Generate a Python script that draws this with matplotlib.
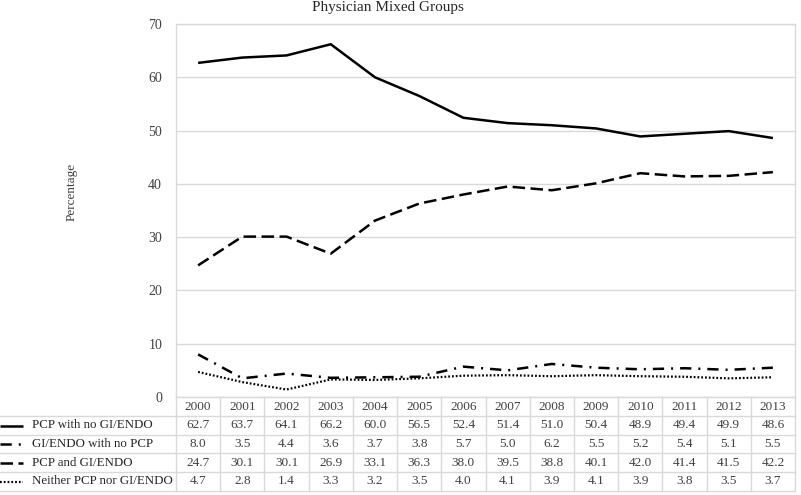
import matplotlib
matplotlib.use("Agg")
import matplotlib.pyplot as plt
from matplotlib.transforms import blended_transform_factory
from matplotlib.lines import Line2D

plt.rcParams['font.family'] = ['Liberation Serif', 'DejaVu Serif']

years = ["2000", "2001", "2002", "2003", "2004", "2005", "2006",
         "2007", "2008", "2009", "2010", "2011", "2012", "2013"]
pcp_no_gi = [62.7, 63.7, 64.1, 66.2, 60.0, 56.5, 52.4, 51.4, 51.0, 50.4, 48.9, 49.4, 49.9, 48.6]
gi_no_pcp = [8.0, 3.5, 4.4, 3.6, 3.7, 3.8, 5.7, 5.0, 6.2, 5.5, 5.2, 5.4, 5.1, 5.5]
pcp_and_gi = [24.7, 30.1, 30.1, 26.9, 33.1, 36.3, 38.0, 39.5, 38.8, 40.1, 42.0, 41.4, 41.5, 42.2]
neither = [4.7, 2.8, 1.4, 3.3, 3.2, 3.5, 4.0, 4.1, 3.9, 4.1, 3.9, 3.8, 3.5, 3.7]
series_names = ["PCP with no GI/ENDO", "GI/ENDO with no PCP", "PCP and GI/ENDO", "Neither PCP nor GI/ENDO"]
title = "Physician Mixed Groups"
ylabel = "Percentage"

W, H = 801, 495
fig = plt.figure(figsize=(W / 100, H / 100), dpi=100)
ax_l, ax_r, ax_t, ax_b = 176, 795, 24, 397
ax = fig.add_axes([ax_l / W, 1 - ax_b / H, (ax_r - ax_l) / W, (ax_b - ax_t) / H])

x = list(range(len(years)))
series = [pcp_no_gi, gi_no_pcp, pcp_and_gi, neither]
styles = [
    dict(linestyle='-', lw=1.8),
    dict(linestyle=(0, (4.5, 2.8, 0.8, 2.8)), lw=1.8),
    dict(linestyle=(0, (5.0, 2.2)), lw=1.8),
    dict(linestyle=(0, (0.8, 0.9)), lw=1.6),
]
for vals, st in zip(series, styles):
    ax.plot(x, vals, color='black', solid_capstyle='butt', dash_capstyle='butt', **st)

ax.set_xlim(-0.5, len(years) - 0.5)
ax.set_ylim(0, 70)
ax.set_yticks(range(0, 71, 10))
ax.set_xticks([])
ax.grid(axis='y', color='#d9d9d9', lw=1)
ax.set_axisbelow(True)
ax.tick_params(axis='y', length=0, labelsize=10, labelcolor='#404040', pad=10)
for s in ax.spines.values():
    s.set_color('#d9d9d9')
    s.set_linewidth(1)
ax.spines['bottom'].set_visible(False)

fig.text(388 / W, 1 - 1 / H, title, ha='center', va='top', fontsize=11, color='#262626')
fig.text(72 / W, 1 - 192 / H, ylabel, rotation=90, ha='center', va='center', fontsize=9.5, color='#404040')

# data table below the axes
tr = blended_transform_factory(ax.transData, fig.transFigure)
rows_px = [397, 416, 435, 453, 472, 491]
def fy(p):
    return 1 - p / H
gc = '#d9d9d9'
for i, p in enumerate(rows_px):
    if i == 0:
        fig.add_artist(Line2D([ax_l / W, ax_r / W], [fy(p), fy(p)], color=gc, lw=1, transform=fig.transFigure))
    else:
        fig.add_artist(Line2D([0, ax_r / W], [fy(p), fy(p)], color=gc, lw=1, transform=fig.transFigure))
for j in range(len(years) + 1):
    xb = j - 0.5
    fig.add_artist(Line2D([xb, xb], [fy(rows_px[0]), fy(rows_px[-1])], color=gc, lw=1, transform=tr))
for j, yv in enumerate(years):
    ax.text(j, fy((rows_px[0] + rows_px[1]) / 2), yv, transform=tr, ha='center', va='center',
            fontsize=9.5, color='#404040')
for r, (vals, st, name) in enumerate(zip(series, styles, series_names)):
    yc = fy((rows_px[r + 1] + rows_px[r + 2]) / 2)
    for j, v in enumerate(vals):
        ax.text(j, yc, f"{v:.1f}", transform=tr, ha='center', va='center', fontsize=9.5, color='#404040')
    fig.add_artist(Line2D([0, 23 / W], [yc, yc], color='black', transform=fig.transFigure,
                          solid_capstyle='butt', dash_capstyle='butt', **st))
    fig.text(32 / W, yc, name, ha='left', va='center', fontsize=9.3, color='#262626')

fig.savefig("out.png", dpi=100)
